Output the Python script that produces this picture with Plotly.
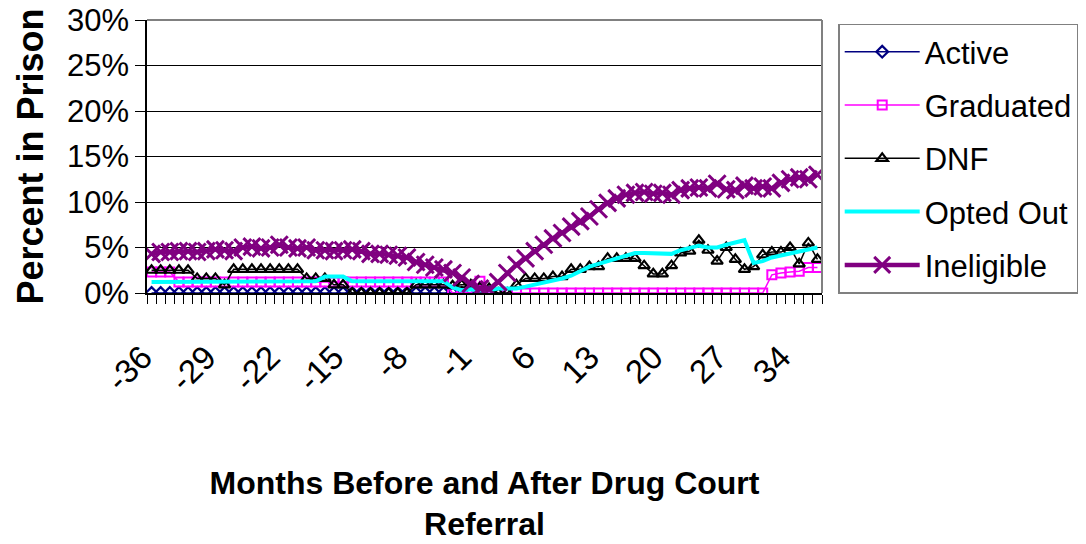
import plotly.graph_objects as go

months = list(range(-36, 38))

active = [0.0] * 38 + [None] * 36

graduated = ([2.3] * 3 + [1.2] * 30 + [0.0] * 3 + [1.3] + [0.0] * 31
             + [2.0, 2.2, 2.3, 2.4, 2.8, 2.8])

dnf = ([2.5] * 5 + [1.6] * 3 + [0.9] + [2.6] * 8 + [1.6] * 3 + [0.9] * 2
       + [0.0] * 7 + [0.9] * 4 + [0.8, 0.9, 0.9, 0.6, 0.5]
       + [0.0, 0.0, 0.9, 1.6, 1.6, 1.6, 1.8, 1.8, 2.6, 2.6, 2.9, 2.9,
          3.8, 3.8, 3.8, 3.8, 3.0, 2.1, 2.1, 3.0, 4.4, 4.6, 5.8, 4.7,
          3.5, 5.0, 3.7, 2.6, 2.9, 4.2, 4.5, 4.5, 5.0, 3.2, 5.5, 3.7])

opted_out = ([1.2] * 4 + [1.3] * 15 + [1.8] * 3 + [1.3] * 11
             + [0.6, 0.3, 0.4, 0.3, 0.3]
             + [0.5, 0.5, 0.5, 0.7, 0.9, 1.1, 1.3, 1.6, 1.9, 2.4, 2.9, 3.2,
                3.5, 3.9, 4.2, 4.4, 4.4, 4.4, 4.3, 4.3, 4.7, 5.0, 5.2, 5.0,
                5.0, 5.3, 5.5, 5.8, 3.3, 3.5, 3.9, 4.1, 4.3, 4.5, 4.7, 5.0])

ineligible = [4.3, 4.5, 4.5, 4.6, 4.6, 4.5, 4.6, 4.8, 4.7, 4.6, 5.0, 5.1,
              4.9, 5.0, 5.3, 5.0, 4.9, 5.0, 4.7, 4.7, 4.6, 4.7, 4.8, 4.6,
              4.3, 4.3, 4.2, 4.1, 3.9, 3.4, 3.1, 2.8, 2.6, 2.2, 1.7, 1.0,
              0.5, 0.4, 1.2, 2.2, 3.1, 3.8, 4.6, 5.3, 6.0, 6.6, 7.3, 7.9,
              8.4, 9.2, 9.9, 10.4, 10.8, 11.0, 11.1, 10.9, 11.0, 10.8, 11.3,
              11.5, 11.6, 11.5, 12.0, 11.4, 11.3, 11.8, 11.5, 11.7, 11.5,
              12.1, 12.5, 12.7, 12.5, 13.0]

x_tick_labels = [-36, -29, -22, -15, -8, -1, 6, 13, 20, 27, 34]
y_ticks = [0, 5, 10, 15, 20, 25, 30]

FONT = "Liberation Sans, Arial, sans-serif"

fig = go.Figure()
fig.add_trace(go.Scatter(
    x=months, y=active, name="Active", mode="lines+markers", legendgroup="a",
    line=dict(color="#000080", width=1.5),
    marker=dict(symbol="diamond-open", size=9, color="#000080",
                line=dict(width=2.2, color="#000080"))))
fig.add_trace(go.Scatter(
    x=months, y=graduated, name="Graduated", mode="lines+markers", legendgroup="b",
    line=dict(color="#FF00FF", width=1.5),
    marker=dict(symbol="square-open", size=9, color="#FF00FF",
                line=dict(width=2, color="#FF00FF"))))
fig.add_trace(go.Scatter(
    x=months, y=dnf, name="DNF", mode="lines+markers", legendgroup="c",
    line=dict(color="#000000", width=1.5),
    marker=dict(symbol="triangle-up-open", size=10, color="#000000",
                line=dict(width=2.2, color="#000000"))))
fig.add_trace(go.Scatter(
    x=months, y=opted_out, name="Opted Out", mode="lines", legendgroup="d",
    line=dict(color="#00FFFF", width=4)))
fig.add_trace(go.Scatter(
    x=months, y=ineligible, name="Ineligible", mode="lines+markers", legendgroup="e",
    line=dict(color="#800080", width=4.5),
    marker=dict(symbol="x-thin-open", size=17, color="#800080",
                line=dict(width=3, color="#800080"))))

fig.update_layout(
    width=1086, height=544,
    margin=dict(l=147, r=264, t=20, b=251, autoexpand=False),
    paper_bgcolor="white", plot_bgcolor="white",
    font=dict(family=FONT, size=28, color="black"),
    showlegend=True,
    legend=dict(x=1.024, y=0.987, xanchor="left", yanchor="top",
                bordercolor="#808080", borderwidth=1.5,
                font=dict(size=31, color="black"),
                itemwidth=75, traceorder="grouped", tracegroupgap=10,
                bgcolor="white"),
    xaxis=dict(
        automargin=False,
        range=[-36.5, 37.5], tickmode="array", tickvals=x_tick_labels,
        ticktext=[str(v) for v in x_tick_labels], tickangle=-45,
        ticks="", showgrid=False, zeroline=False,
        showline=True, linecolor="black", linewidth=1.5,
        ticklabelstandoff=30, ticklabelshift=-9,
        tickfont=dict(size=33),
        minor=dict(tickmode="linear", tick0=-36.5, dtick=1, ticks="outside",
                   ticklen=9, tickcolor="black", tickwidth=1, showgrid=False),
        title=dict(text="<b>Months Before and After Drug Court<br>Referral</b>",
                   font=dict(size=32), standoff=74),
    ),
    yaxis=dict(
        automargin=False,
        range=[0, 30], tickmode="array", tickvals=y_ticks,
        ticktext=[f"{v}%" for v in y_ticks],
        ticks="outside", ticklen=10, tickcolor="black", tickwidth=1,
        showgrid=True, gridcolor="black", gridwidth=1,
        zeroline=False, showline=True, linecolor="black", linewidth=1.5,
        tickfont=dict(size=31),
        title=dict(text="<b>Percent in Prison</b>", font=dict(size=36),
                   standoff=12),
    ),
)

# gray plot-area border (top and right)
fig.add_shape(type="line", xref="paper", yref="paper", x0=0, x1=1, y0=1, y1=1,
              line=dict(color="#808080", width=2))
fig.add_shape(type="line", xref="paper", yref="paper", x0=1, x1=1, y0=0, y1=1,
              line=dict(color="#808080", width=2))

fig.write_html("out.html",
               config={"displayModeBar": False},
               post_script="document.body.style.margin='0';document.body.style.overflow='hidden';")
